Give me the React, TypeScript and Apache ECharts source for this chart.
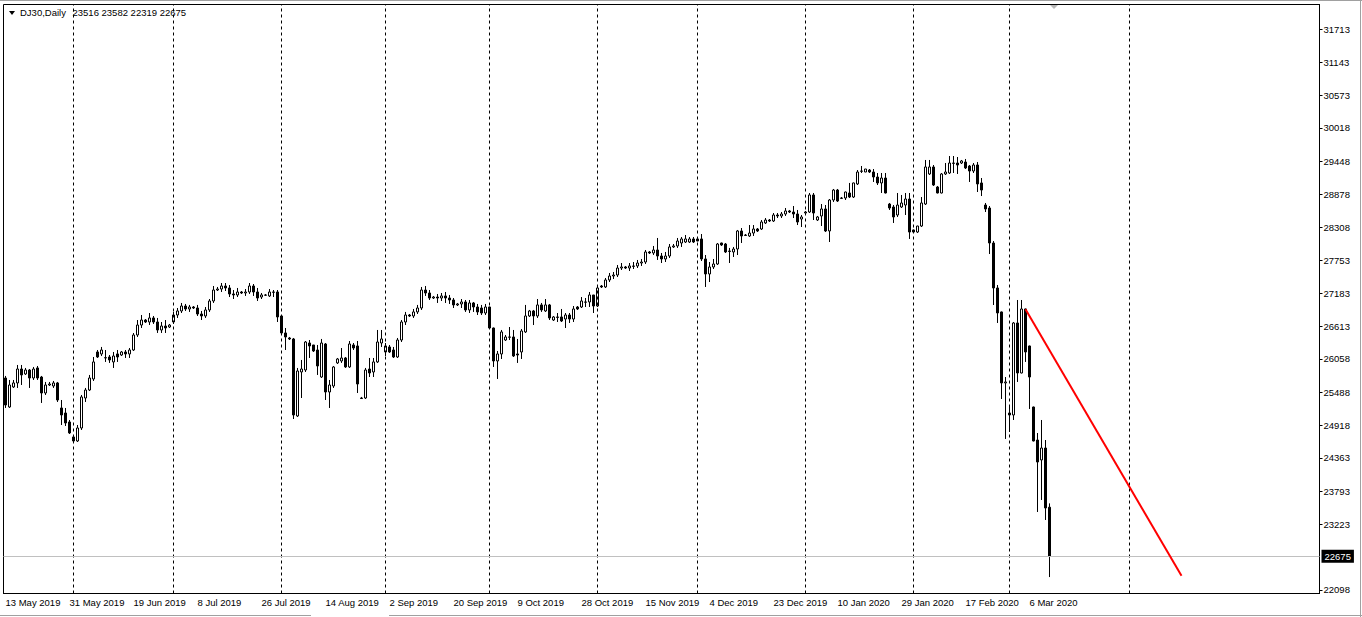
import React, { useEffect, useRef } from "react";
import * as echarts from "echarts";

const FONT = "'Liberation Sans', Arial, sans-serif";
const SYMBOL = "DJ30";
const TIMEFRAME = "Daily";
const FIRST_DAY = Date.UTC(2019, 4, 13);
const TOTAL_SLOTS = 329;
const LABEL_EVERY = 16;
const LAST_SEPARATOR = Date.UTC(2020, 3, 30);
const MONTHS = ["Jan", "Feb", "Mar", "Apr", "May", "Jun", "Jul", "Aug", "Sep", "Oct", "Nov", "Dec"];

// candles: [open, close, low, high]
const may2019 = [
  [25731, 25268, 25217, 25766], [25234, 25611, 25217, 25697], [25577, 25646, 25560, 25697],
  [25646, 25885, 25560, 25954], [25885, 25783, 25611, 25954], [25800, 25868, 25783, 25903],
  [25868, 25731, 25560, 25885], [25731, 25885, 25697, 25920], [25903, 25731, 25697, 25937],
  [25748, 25474, 25303, 25766], [25474, 25611, 25440, 25663], [25611, 25628, 25594, 25663],
  [25594, 25646, 25560, 25680], [25646, 25354, 25320, 25663], [25217, 25097, 24925, 25354],
  [25131, 24960, 24908, 25217], [24977, 24789, 24771, 25011],
];
const jun2019 = [
  [24720, 24651, 24634, 24754], [24651, 24874, 24634, 24925], [24874, 25406, 24840, 25440],
  [25388, 25525, 25320, 25560], [25525, 25731, 25508, 25783], [25714, 26006, 25680, 26091],
  [26177, 26091, 26074, 26211], [26143, 26211, 26108, 26263], [26074, 26080, 26006, 26211],
  [26091, 26040, 25989, 26125], [26006, 26108, 25903, 26177], [26143, 26091, 26006, 26211],
  [26125, 26177, 26108, 26194], [26177, 26143, 26074, 26211], [26143, 26211, 26074, 26245],
  [26211, 26468, 26194, 26502], [26468, 26639, 26434, 26725], [26639, 26725, 26588, 26811],
  [26725, 26691, 26674, 26742], [26691, 26760, 26639, 26845], [26760, 26691, 26657, 26794],
  [26691, 26554, 26503, 26760], [26554, 26622, 26503, 26691], [26622, 26588, 26503, 26725],
  [26605, 26639, 26588, 26657],
];
const jul2019 = [
  [26691, 26811, 26657, 26863], [26811, 26880, 26760, 26931], [26880, 26965, 26845, 27017],
  [26965, 26914, 26880, 27000], [26914, 26948, 26863, 26983], [26948, 26931, 26914, 26965],
  [26931, 26828, 26794, 26983], [26828, 26794, 26725, 26880], [26794, 26897, 26760, 26948],
  [26897, 27051, 26863, 27085], [27051, 27239, 27017, 27308], [27239, 27256, 27222, 27291],
  [27256, 27308, 27205, 27359], [27308, 27274, 27222, 27359], [27274, 27171, 27119, 27325],
  [27171, 27154, 27085, 27239], [27154, 27205, 27119, 27274], [27205, 27188, 27171, 27222],
  [27188, 27205, 27137, 27256], [27205, 27308, 27171, 27359], [27308, 27205, 27137, 27342],
  [27205, 27102, 27051, 27274], [27119, 27154, 27085, 27188], [27154, 27150, 27137, 27171],
  [27137, 27205, 27119, 27256], [27205, 27200, 27119, 27239], [27205, 26777, 26691, 27239],
];
const aug2019 = [
  [26794, 26503, 26468, 26811], [26503, 26434, 26211, 26588], [26417, 26400, 26382, 26434],
  [26400, 25097, 25028, 26417], [25080, 25851, 25063, 25903], [25834, 25885, 25388, 26040],
  [25868, 26348, 25834, 26365], [26331, 26280, 26074, 26382], [26297, 26194, 26177, 26297],
  [26211, 25937, 25783, 26297], [25748, 26331, 25731, 26400], [26314, 25491, 25354, 26331],
  [25491, 25611, 25217, 25697], [25594, 25920, 25560, 25937], [25989, 26057, 25971, 26074],
  [26023, 26074, 25989, 26245], [26074, 25920, 25903, 26091], [25920, 26314, 25903, 26365],
  [26297, 26245, 26211, 26331], [26280, 25628, 25474, 26365], [25388, 25380, 25371, 25406],
  [25388, 25868, 25371, 25903], [25885, 25817, 25748, 26074], [25834, 26006, 25748, 26074],
  [26006, 26348, 25989, 26554], [26331, 26400, 26263, 26554],
];
const sep2019 = [
  [26177, 26280, 26108, 26331], [26263, 26177, 26160, 26297], [26211, 26091, 26074, 26263],
  [26091, 26382, 26074, 26417], [26382, 26691, 26348, 26725], [26691, 26811, 26639, 26863],
  [26811, 26794, 26777, 26828], [26794, 26863, 26760, 26914], [26863, 26931, 26828, 26983],
  [26931, 27239, 26897, 27291], [27239, 27188, 27137, 27308], [27188, 27102, 27068, 27239],
  [27102, 27119, 27085, 27137], [27119, 27102, 27017, 27171], [27102, 27137, 27051, 27188],
  [27137, 27102, 27017, 27205], [27102, 27068, 27000, 27154], [27068, 26983, 26931, 27102],
  [26983, 27000, 26965, 27017], [27000, 27034, 26931, 27085], [27034, 26897, 26863, 27068],
  [26897, 27017, 26845, 27068], [27017, 26948, 26863, 27034], [26948, 26863, 26811, 27000],
  [26931, 26845, 26811, 26983], [26845, 26948, 26811, 27000],
];
const oct2019 = [
  [26948, 26588, 26580, 26955], [26588, 26023, 25920, 26595], [26023, 26143, 25714, 26194],
  [26143, 26520, 26057, 26554], [26382, 26434, 26365, 26468], [26434, 26430, 26382, 26605],
  [26434, 26108, 26091, 26554], [26143, 26125, 25989, 26400], [26177, 26537, 26057, 26571],
  [26520, 26794, 26503, 26983], [26794, 26880, 26777, 26897], [26880, 26794, 26639, 26897],
  [26794, 26983, 26760, 27085], [26983, 26897, 26863, 27017], [26880, 26983, 26863, 27085],
  [26983, 26760, 26725, 27000], [26725, 26777, 26708, 26794], [26777, 26770, 26691, 26845],
  [26777, 26708, 26691, 26914], [26742, 26811, 26588, 26845], [26811, 26742, 26674, 26845],
  [26742, 26914, 26691, 26965], [26948, 26914, 26897, 26965], [26948, 27051, 26931, 27119],
  [27034, 27030, 26948, 27102], [27034, 27154, 26948, 27205], [27154, 26965, 26845, 27154],
];
const nov2019 = [
  [26965, 27274, 26948, 27308], [27308, 27291, 27274, 27325], [27291, 27411, 27274, 27445],
  [27411, 27479, 27376, 27531], [27479, 27496, 27428, 27548], [27496, 27616, 27462, 27668],
  [27616, 27634, 27582, 27702], [27634, 27616, 27599, 27651], [27616, 27651, 27565, 27702],
  [27651, 27645, 27599, 27719], [27651, 27702, 27616, 27754], [27702, 27719, 27651, 27771],
  [27719, 27891, 27685, 27925], [27891, 27874, 27857, 27908], [27874, 27925, 27840, 27994],
  [27925, 27822, 27754, 28131], [27822, 27771, 27702, 27874], [27771, 27822, 27719, 27891],
  [27822, 27977, 27788, 28028], [27977, 27994, 27960, 28028], [27994, 28079, 27960, 28131],
  [28045, 28114, 27977, 28148], [28062, 28114, 28045, 28182], [28062, 28114, 28045, 28148],
  [28114, 28062, 28045, 28148],
];
const dec2019 = [
  [28114, 28079, 28075, 28131], [28114, 27771, 27736, 28199], [27771, 27514, 27291, 27839],
  [27514, 27634, 27376, 27719], [27634, 27685, 27599, 27771], [27685, 28028, 27668, 28045],
  [28045, 28011, 27994, 28050], [28028, 27891, 27874, 28045], [27908, 27900, 27702, 27960],
  [27891, 27942, 27805, 27977], [27942, 28251, 27839, 28268], [28251, 28165, 28045, 28302],
  [28182, 28175, 28165, 28199], [28165, 28216, 28148, 28353], [28216, 28285, 28165, 28353],
  [28285, 28251, 28233, 28302], [28285, 28405, 28268, 28439], [28388, 28439, 28371, 28473],
  [28439, 28422, 28405, 28456], [28422, 28525, 28405, 28559], [28525, 28508, 28473, 28559],
  [28508, 28542, 28473, 28576], [28542, 28594, 28508, 28645], [28594, 28576, 28559, 28611],
  [28576, 28542, 28473, 28679], [28542, 28405, 28353, 28611], [28456, 28491, 28319, 28525],
];
const jan2020 = [
  [28559, 28576, 28542, 28594], [28576, 28868, 28559, 28902], [28868, 28559, 28439, 28902],
  [28439, 28491, 28422, 28508], [28508, 28628, 28336, 28713], [28628, 28251, 28233, 28696],
  [28251, 28782, 28062, 28799], [28782, 28953, 28748, 28971], [28953, 28765, 28748, 28971],
  [28816, 28810, 28799, 28833], [28816, 28919, 28782, 28925], [28902, 28833, 28816, 29074],
  [28833, 29074, 28816, 29080], [29057, 29262, 29039, 29296], [29279, 29275, 29245, 29365],
  [29262, 29313, 29260, 29315], [29296, 29262, 29245, 29313], [29262, 29176, 29091, 29313],
  [29176, 29074, 29039, 29245], [29074, 29159, 28902, 29245], [29159, 28902, 28895, 29245],
  [28713, 28645, 28611, 28731], [28662, 28491, 28388, 28696], [28525, 28696, 28491, 28902],
  [28662, 28731, 28645, 28868], [28696, 28799, 28525, 28902], [28799, 28233, 28114, 28902],
];
const feb2020 = [
  [28268, 28233, 28216, 28275], [28233, 28336, 28216, 28340], [28336, 28731, 28319, 28833],
  [28713, 29348, 28696, 29468], [29228, 29348, 29211, 29468], [29348, 29039, 29022, 29382],
  [29005, 28902, 28895, 29022], [28902, 29228, 28895, 29245], [29228, 29262, 29211, 29416],
  [29245, 29416, 29228, 29536], [29416, 29410, 29245, 29536], [29416, 29382, 29228, 29519],
  [29416, 29451, 29399, 29468], [29433, 29331, 29313, 29485], [29365, 29279, 29091, 29382],
  [29279, 29382, 29245, 29416], [29382, 29057, 28919, 29433], [29074, 28953, 28850, 29159],
  [28696, 28628, 28576, 28731], [28645, 28045, 27856, 28679], [28045, 27274, 26982, 28079],
  [27274, 26846, 26674, 27325], [26863, 25646, 25371, 26870], [25646, 25663, 24686, 25748],
];
const mar2020 = [
  [25131, 25097, 24805, 25234], [25097, 26674, 25011, 26691], [26674, 25817, 25663, 27068],
  [25817, 26914, 25810, 27068], [26914, 26177, 26006, 26920], [26280, 25748, 25200, 26285],
  [25234, 24651, 24645, 25240], [24668, 24291, 23434, 24788], [24326, 24531, 23640, 25011],
  [24531, 23503, 23297, 24668], [23516, 22675, 22319, 23582],
];

const yTickLabels = [
  31713, 31143, 30573, 30018, 29448, 28878, 28308, 27753, 27183,
  26613, 26058, 25488, 24918, 24363, 23793, 23223, 22098,
];
const Y_MIN = 22037;
const Y_MAX = 32133;

const trendStart = { bar: 255, price: 26910 };
const trendEnd = { bar: 294, price: 22340 };

const candles = [
  ...may2019, ...jun2019, ...jul2019, ...aug2019, ...sep2019, ...oct2019,
  ...nov2019, ...dec2019, ...jan2020, ...feb2020, ...mar2020,
];

function buildDates(): Date[] {
  const out: Date[] = [];
  const d = new Date(FIRST_DAY);
  while (out.length < candles.length) {
    if (d.getUTCDay() !== 6) out.push(new Date(d.getTime()));
    d.setUTCDate(d.getUTCDate() + 1);
  }
  while (out.length < TOTAL_SLOTS) {
    out.push(new Date(d.getTime()));
    d.setUTCDate(d.getUTCDate() + 1);
  }
  return out;
}

export default function App() {
  const ref = useRef<HTMLDivElement>(null);
  useEffect(() => {
    document.body.style.margin = "0";
    const dates = buildDates();
    const categories = dates.map(
      (d) => `${d.getUTCDate()} ${MONTHS[d.getUTCMonth()]} ${d.getUTCFullYear()}`
    );
    const separators: number[] = [];
    for (let i = 1; i < dates.length; i++) {
      if (dates[i].getUTCMonth() !== dates[i - 1].getUTCMonth() && dates[i].getTime() <= LAST_SEPARATOR) {
        separators.push(i);
      }
    }
    const last = candles[candles.length - 1];
    const lastClose = last[1];
    const ohlcText = `${last[0]} ${last[3]} ${last[2]} ${last[1]}`;

    const markData: any[] = [
      ...separators.map((i) => ({
        xAxis: i,
        lineStyle: { color: "#000", type: [3, 3], width: 1 },
        label: { show: false },
      })),
      {
        yAxis: lastClose,
        lineStyle: { color: "#c0c0c0", type: "solid", width: 1 },
        label: {
          show: true,
          position: "end",
          formatter: String(lastClose),
          color: "#fff",
          backgroundColor: "#000",
          padding: [2, 3, 1, 3],
          fontSize: 9.5,
          fontFamily: FONT,
          distance: 2,
        },
      },
      [
        {
          coord: [trendStart.bar, trendStart.price],
          lineStyle: { color: "#ff0000", width: 2, type: "solid" },
          label: { show: false },
        },
        { coord: [trendEnd.bar, trendEnd.price] },
      ],
    ];

    const chart = echarts.init(ref.current!, null, { renderer: "svg" });
    chart.setOption({
      animation: false,
      backgroundColor: "#fff",
      grid: {
        left: 3.5,
        top: 4.5,
        right: 42.5,
        bottom: 23.5,
        show: true,
        borderColor: "#000",
        borderWidth: 1,
        backgroundColor: "#fff",
      },
      xAxis: {
        type: "category",
        data: categories,
        boundaryGap: true,
        axisLine: { show: true, lineStyle: { color: "#000" } },
        axisTick: { show: false },
        axisLabel: {
          interval: (i: number) => i % LABEL_EVERY === 0 && i < candles.length,
          align: "left",
          color: "#000",
          fontSize: 9.5,
          fontFamily: FONT,
          margin: 4,
        },
        splitLine: { show: false },
      },
      yAxis: {
        type: "value",
        position: "right",
        min: Y_MIN,
        max: Y_MAX,
        axisLine: { show: true, lineStyle: { color: "#000" } },
        axisTick: {
          show: true,
          length: 3,
          inside: false,
          customValues: yTickLabels,
          lineStyle: { color: "#000" },
        },
        axisLabel: {
          customValues: yTickLabels,
          color: "#000",
          fontSize: 9.5,
          fontFamily: FONT,
          margin: 4,
          formatter: (v: number) => String(v),
        },
        splitLine: { show: false },
      },
      series: [
        {
          type: "candlestick",
          data: candles,
          barWidth: 2,
          silent: true,
          emphasis: { disabled: true },
          itemStyle: {
            color: "#ffffff",
            color0: "#000000",
            borderColor: "#000000",
            borderColor0: "#000000",
            borderWidth: 1,
          },
          markLine: {
            silent: true,
            symbol: ["none", "none"],
            animation: false,
            emphasis: { disabled: true },
            data: markData,
          },
        },
      ],
      graphic: [
        { type: "line", shape: { x1: 0, y1: 0.5, x2: 1362, y2: 0.5 }, style: { stroke: "#a0a0a0", lineWidth: 1 }, silent: true },
        { type: "line", shape: { x1: 1360.5, y1: 0, x2: 1360.5, y2: 617 }, style: { stroke: "#a0a0a0", lineWidth: 1 }, silent: true },
        { type: "line", shape: { x1: 0, y1: 615.5, x2: 311, y2: 615.5 }, style: { stroke: "#a0a0a0", lineWidth: 1 }, silent: true },
        { type: "line", shape: { x1: 389, y1: 615.5, x2: 1362, y2: 615.5 }, style: { stroke: "#a0a0a0", lineWidth: 1 }, silent: true },
        { type: "polygon", shape: { points: [[9, 11], [15, 11], [12, 15]] }, style: { fill: "#000" }, silent: true },
        {
          type: "text",
          x: 20,
          y: 12.5,
          silent: true,
          style: { text: `${SYMBOL},${TIMEFRAME}`, fill: "#000", fontSize: 9.5, fontFamily: FONT, verticalAlign: "middle" },
        },
        {
          type: "text",
          x: 72.5,
          y: 12.5,
          silent: true,
          style: { text: ohlcText, fill: "#000", fontSize: 9.5, fontFamily: FONT, verticalAlign: "middle" },
        },
        { type: "polygon", shape: { points: [[1050, 5], [1058, 5], [1054, 9]] }, style: { fill: "#b8b8b8" }, silent: true },
      ],
    });
    return () => chart.dispose();
  }, []);
  return <div ref={ref} style={{ width: 1362, height: 617, background: "#fff" }} />;
}
